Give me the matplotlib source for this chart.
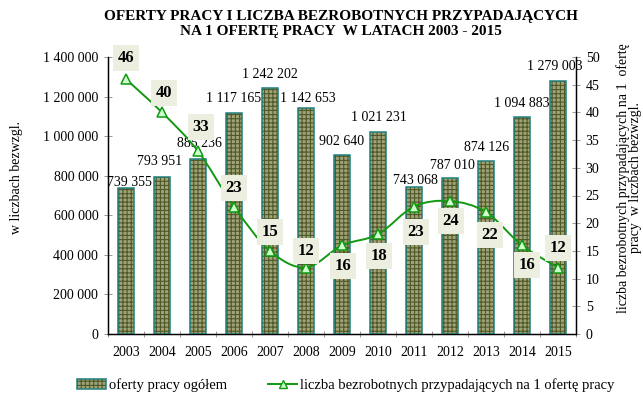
import numpy as np
import matplotlib.pyplot as plt
from matplotlib.path import Path
from matplotlib.patches import PathPatch, Patch
from matplotlib.lines import Line2D
from matplotlib.legend_handler import HandlerTuple

plt.rcParams['font.family'] = ['Liberation Serif', 'DejaVu Serif']
plt.rcParams['hatch.linewidth'] = 0.8

years = ['2003', '2004', '2005', '2006', '2007', '2008', '2009',
         '2010', '2011', '2012', '2013', '2014', '2015']
offers = [739355, 793951, 885236, 1117165, 1242202, 1142653, 902640,
          1021231, 743068, 787010, 874126, 1094883, 1279003]
per_offer = [46, 40, 33, 23, 15, 12, 16, 18, 23, 24, 22, 16, 12]

# label placement (pixels)
bar_lbl_dx = [3, -2, 1, 0, 0, 2, 0, 1, 1, 2, 1, 0, -3]
bar_lbl_dy = [5, 15, 15, 14, 14, 9, 14, 14, 6, 13, 14, 14, 14]
line_lbl_dx = [0, 2, 3, 0, 0, 0, 1, 1, 2, 1, 4, 5, 0]
line_lbl_dy = [21, 19, 24, 19, 19, 17, -21, -22, -25, -20, -23, -20, 20]

bar_face = '#a0a377'
hatch_col = '#4f5827'
bar_edge = '#1f7f7f'
line_col = '#119911'


def fmt(v):
    return f'{v:,}'.replace(',', ' ')


fig = plt.figure(figsize=(6.43, 3.96), dpi=100)
ax = fig.add_axes([108 / 643, 62 / 396, 468 / 643, 277 / 396])
ax2 = ax.twinx()

x = np.arange(len(years))

# bars: hatched fill first, then the teal outline on top
ax.bar(x, offers, width=0.42, facecolor=bar_face, edgecolor=hatch_col,
       hatch='++++', linewidth=0, zorder=2)
ax.bar(x, offers, width=0.42, facecolor='none', edgecolor=bar_edge,
       linewidth=1.1, zorder=3)

for i, v in enumerate(offers):
    ax.annotate(fmt(v), (x[i], v), xytext=(bar_lbl_dx[i], bar_lbl_dy[i]),
                textcoords='offset pixels', ha='center', va='center',
                fontsize=10, zorder=4)

ax.set_xlim(-0.5, len(years) - 0.5)
ax.set_ylim(0, 1400000)
ax.set_yticks(np.arange(0, 1400001, 200000))
ax.set_yticklabels([fmt(int(t)) for t in np.arange(0, 1400001, 200000)],
                   fontsize=10)
ax.set_xticks(x)
ax.set_xticklabels(years, fontsize=10)
ax.set_xticks(np.arange(-0.5, len(years)), minor=True)
ax.tick_params(axis='x', which='major', length=0, pad=9)
ax.tick_params(axis='x', which='minor', direction='inout', length=5,
               width=0.6, color='#888888')
ax.tick_params(axis='y', direction='inout', length=6, width=0.6,
               color='#888888', pad=4)
ax.spines['top'].set_visible(False)
for s in ('left', 'right', 'bottom'):
    ax.spines[s].set_linewidth(1.0)

# smoothed line through the per-offer values (cubic Bezier segments)
pts = np.column_stack([x, per_offer]).astype(float)
ext = np.vstack([pts[0], pts, pts[-1]])
verts = [tuple(pts[0])]
codes = [Path.MOVETO]
for i in range(len(pts) - 1):
    p0, p1, p2, p3 = ext[i], ext[i + 1], ext[i + 2], ext[i + 3]
    c1 = p1 + (p2 - p0) / 6
    c2 = p2 - (p3 - p1) / 6
    verts += [tuple(c1), tuple(c2), tuple(p2)]
    codes += [Path.CURVE4] * 3
ax2.add_patch(PathPatch(Path(verts, codes), facecolor='none',
                        edgecolor=line_col, linewidth=1.4, zorder=5))
ax2.plot(x, per_offer, linestyle='none', marker='^', markersize=7,
         markerfacecolor='#ccffcc', markeredgecolor=line_col,
         markeredgewidth=1.1, zorder=6)

for i, v in enumerate(per_offer):
    ax2.annotate(str(v), (x[i], v), xytext=(line_lbl_dx[i], line_lbl_dy[i]),
                 textcoords='offset pixels', ha='center', va='center',
                 fontsize=12, fontweight='bold', zorder=7,
                 bbox=dict(boxstyle='square,pad=0.3', facecolor='#eceedf',
                           edgecolor='none'))

ax2.set_ylim(0, 50)
ax2.set_yticks(np.arange(0, 51, 5))
ax2.tick_params(axis='y', direction='inout', length=6, width=0.6,
                color='#888888', labelsize=10, pad=4)
ax2.spines['top'].set_visible(False)

fig.text(341 / 643, 1 - 24 / 396,
         'OFERTY PRACY I LICZBA BEZROBOTNYCH PRZYPADAJĄCYCH\n'
         'NA 1 OFERTĘ PRACY  W LATACH 2003 - 2015',
         ha='center', va='center', fontsize=11, fontweight='bold',
         linespacing=1.2)
fig.text(17 / 643, 1 - 177 / 396, 'w liczbach bezwzgl.', rotation=90,
         ha='center', va='center', fontsize=10)
fig.text(629 / 643, 1 - 178 / 396,
         'liczba bezrobotnych przypadających na 1  ofertę\n'
         'pracy  w liczbach bezwzgl.', rotation=90, ha='center',
         va='center', fontsize=10, multialignment='center', linespacing=0.95)

bar_handle = (Patch(facecolor=bar_face, edgecolor=hatch_col, hatch='++++',
                    linewidth=0),
              Patch(facecolor='none', edgecolor=bar_edge, linewidth=1.1))
line_handle = Line2D([], [], color=line_col, linewidth=1.4, marker='^',
                     markersize=6, markerfacecolor='#ccffcc',
                     markeredgecolor=line_col)
fig.legend([bar_handle, line_handle],
           ['oferty pracy ogółem',
            'liczba bezrobotnych przypadających na 1 ofertę pracy'],
           handler_map={tuple: HandlerTuple(ndivide=1, pad=0)},
           loc='center', bbox_to_anchor=(346 / 643, 1 - 385 / 396),
           ncol=2, frameon=False, fontsize=10.5, handlelength=2.0,
           handletextpad=0.2, columnspacing=2.8, borderaxespad=0)

fig.savefig('out.png', dpi=100)
